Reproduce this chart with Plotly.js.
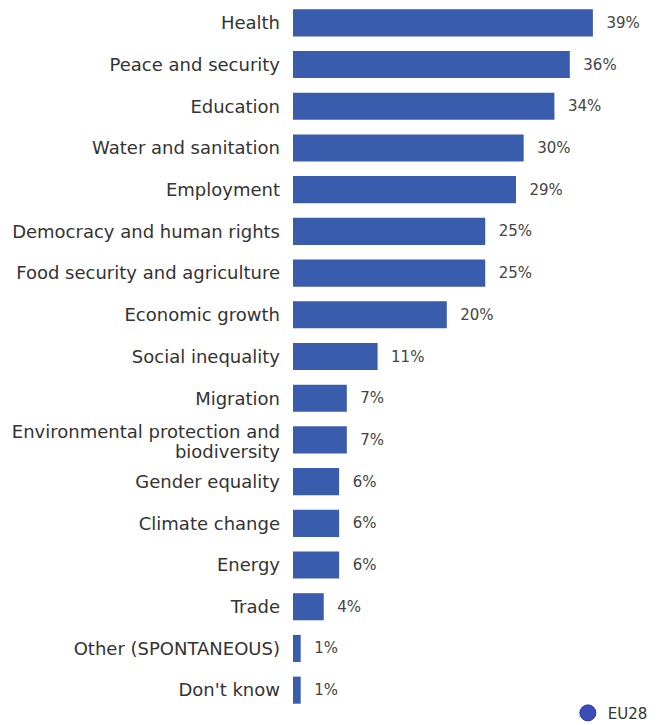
<!DOCTYPE html>
<html><head><meta charset="utf-8">
<script src="https://cdn.plot.ly/plotly-3.0.1.min.js"></script>
<style>html,body{margin:0;padding:0;background:#fff}</style>
</head><body><div id="chart" style="width:669px;height:725px"></div>
<script>
const categories = [
  "Health","Peace and security","Education","Water and sanitation","Employment",
  "Democracy and human rights","Food security and agriculture","Economic growth",
  "Social inequality","Migration","Environmental protection and<br>biodiversity",
  "Gender equality","Climate change","Energy","Trade","Other (SPONTANEOUS)","Don't know"
];
const values = [39,36,34,30,29,25,25,20,11,7,7,6,6,6,4,1,1];
const seriesName = "EU28";

const barColor = "#3a5cad";
const data = [
  {
    type: "bar", orientation: "h",
    y: categories, x: values,
    marker: {color: barColor},
    text: values.map(v => "\u2002\u2009" + v + "%"),
    textposition: "outside",
    textfont: {family: "DejaVu Sans", size: 15, color: "#444"},
    cliponaxis: false,
    showlegend: false,
    hoverinfo: "none"
  },
  {
    type: "scatter", mode: "markers", name: seriesName,
    x: [null], y: [null],
    marker: {symbol: "circle", size: 17, color: "#3d4cb8", line: {color: "#2a3590", width: 1}},
    showlegend: true
  }
];
const layout = {
  width: 669, height: 725,
  margin: {l: 293, r: 0, t: 2, b: 14, autoexpand: false},
  paper_bgcolor: "#fff", plot_bgcolor: "#fff",
  bargap: 0.35,
  xaxis: {range: [0, 48.9], visible: false, fixedrange: true},
  yaxis: {
    type: "category", autorange: "reversed",
    showgrid: false, zeroline: false, showline: false, ticks: "",
    ticklabelstandoff: 12,
    tickfont: {family: "DejaVu Sans", size: 18, color: "#333"}
  },
  legend: {
    x: 0.731, xanchor: "left", y: -0.003, yanchor: "middle",
    font: {family: "DejaVu Sans", size: 15, color: "#333"},
    bgcolor: "rgba(0,0,0,0)", itemwidth: 30, tracegroupgap: 0
  },
  showlegend: true
};
Plotly.newPlot("chart", data, layout, {displayModeBar: false, staticPlot: true}).then(gd => {
  // tighten line spacing of the two-line category label
  gd.querySelectorAll(".ytick text").forEach(t => {
    const lines = t.querySelectorAll("tspan.line");
    if (lines.length > 1) {
      lines[1].setAttribute("dy", "1.12em");
      const y = parseFloat(t.getAttribute("y") || "0");
      t.setAttribute("y", y + 3);
      lines.forEach(l => { if (l.getAttribute("y") !== null) l.setAttribute("y", parseFloat(l.getAttribute("y")) + 3); });
    }
  });
});
</script></body></html>
